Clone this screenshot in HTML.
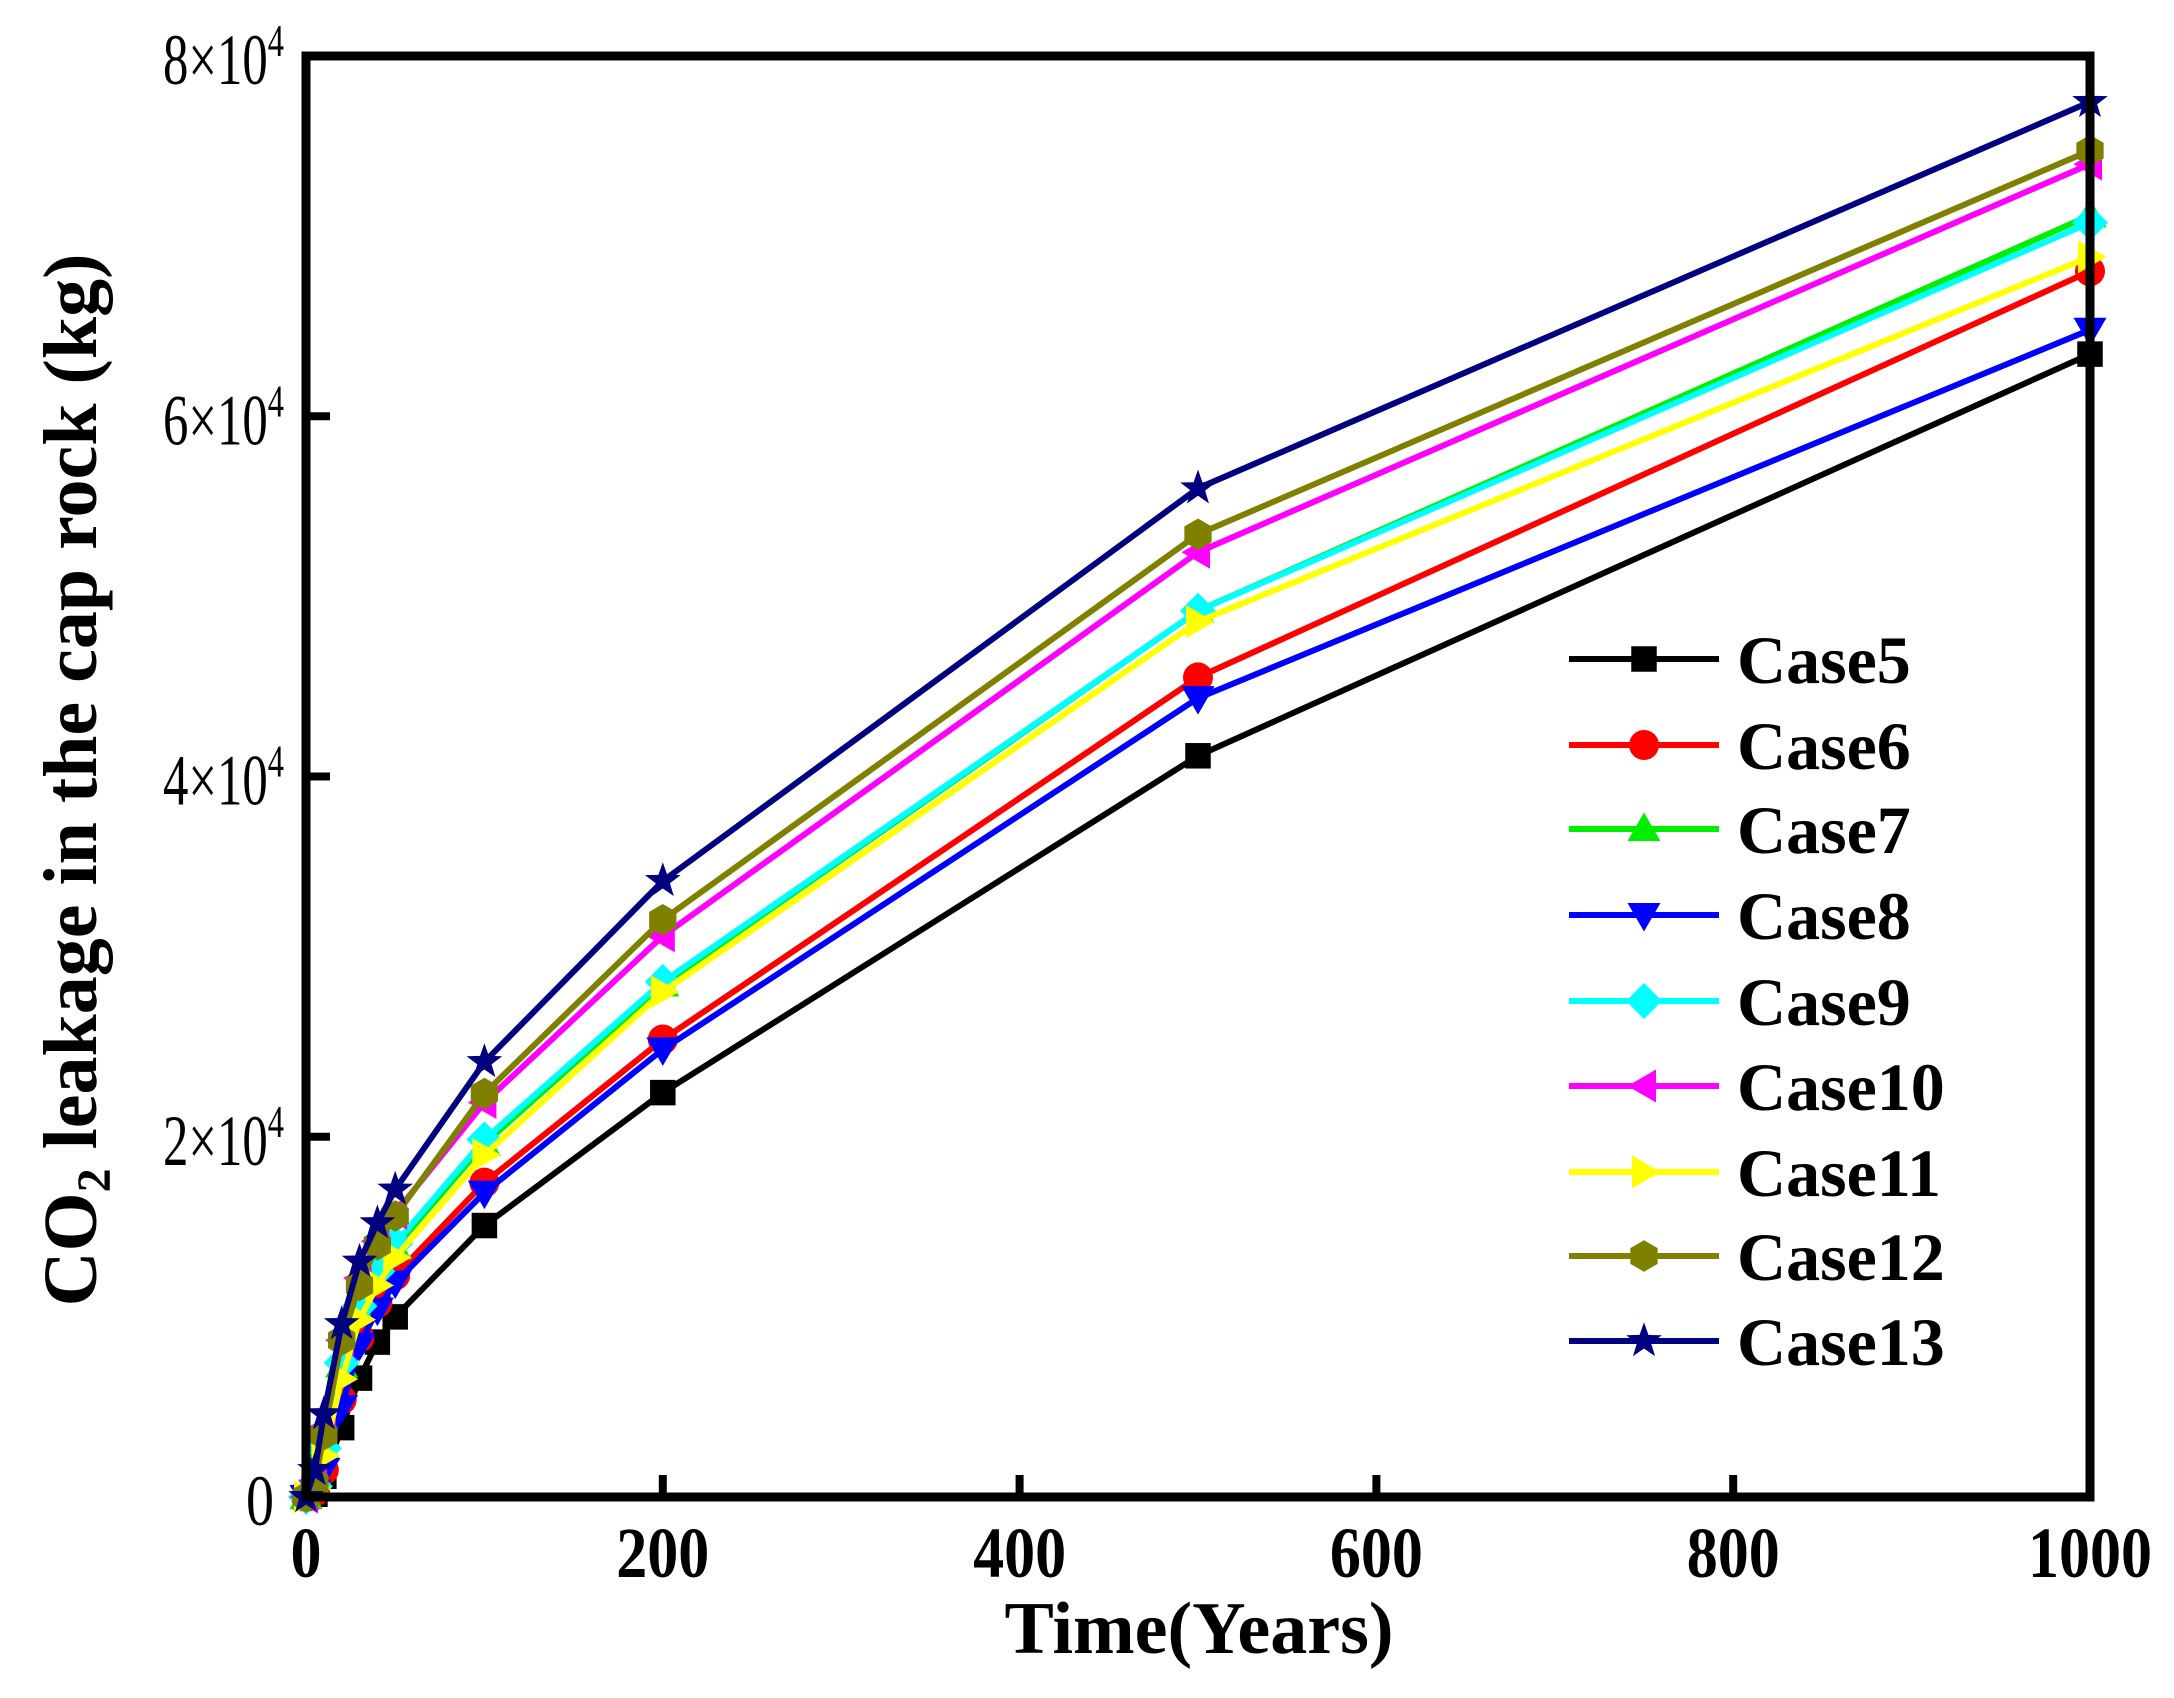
<!DOCTYPE html>
<html><head><meta charset="utf-8"><style>
html,body{margin:0;padding:0;background:#fff;}
svg{display:block;font-family:"Liberation Serif",serif;}
</style></head><body>
<svg id="chart" width="2174" height="1698" viewBox="0 0 2174 1698" xmlns="http://www.w3.org/2000/svg">
<g id="series"></g>
<g id="axes"></g>
<g id="legend"></g>
</svg>
<script>
const times = [5, 10, 20, 30, 40, 50, 100, 200, 500, 1000];
const case5  = [150, 1150, 3850, 6600, 8600, 10000, 15070, 22450, 41150, 63450];
const case6  = [300, 1500, 5400, 8850, 10770, 12300, 17450, 25400, 45500, 68050];
const case7  = [600, 2700, 7300, 10400, 12300, 13850, 19600, 28450, 49200, 71150];
const case8  = [300, 1500, 5000, 8450, 10400, 11900, 16900, 24850, 44350, 64800];
const case9  = [600, 2700, 7450, 10600, 12530, 14070, 19850, 28600, 49200, 70750];
const case10 = [900, 3850, 8700, 12150, 14200, 15750, 21900, 31150, 52450, 74000];
const case11 = [500, 2300, 6550, 9850, 11750, 13300, 19000, 28050, 48600, 68850];
const case12 = [800, 3450, 8700, 11750, 14000, 15600, 22400, 32050, 53450, 74750];
const case13 = [1500, 4600, 9600, 13070, 15200, 17070, 24150, 34200, 56000, 77450];
const seriesNames = ["Case5","Case6","Case7","Case8","Case9","Case10","Case11","Case12","Case13"];
const xTicks = [0, 200, 400, 600, 800, 1000];
const yTicks = [0, 20000, 40000, 60000, 80000];
const yTickMantissa = ["0","2","4","6","8"];

const allSeries = [case5,case6,case7,case8,case9,case10,case11,case12,case13];
const colors = ["#000000","#ff0000","#00ee00","#0000ff","#00ffff","#ff00ff","#ffff00","#808000","#000080"];
const markers = ["square","circle","tri-up","tri-down","diamond","tri-left","tri-right","hexagon","star"];

const X0=306, X1=2090, Y0=1497, Y1=56;
const xs = v => X0 + (v-0)/(1000-0)*(X1-X0);
const ys = v => Y0 - (v-0)/(80000-0)*(Y0-Y1);
const NS="http://www.w3.org/2000/svg";
function mk(tag, attrs, parent){const e=document.createElementNS(NS,tag);for(const k in attrs)e.setAttribute(k,attrs[k]);parent.appendChild(e);return e;}

function markerShape(type, cx, cy, r, color, parent){
  let e;
  if(type==="square") e=mk("rect",{x:cx-r*0.85,y:cy-r*0.85,width:r*1.7,height:r*1.7,fill:color},parent);
  else if(type==="circle") e=mk("circle",{cx:cx,cy:cy,r:r,fill:color},parent);
  else {
    let pts=[];
    if(type==="tri-up") pts=[[0,-r*1.1],[r*1.1,r*0.8],[-r*1.1,r*0.8]];
    else if(type==="tri-down") pts=[[0,r*1.1],[r*1.1,-r*0.8],[-r*1.1,-r*0.8]];
    else if(type==="tri-left") pts=[[-r*1.1,0],[r*0.8,-r*1.1],[r*0.8,r*1.1]];
    else if(type==="tri-right") pts=[[r*1.1,0],[-r*0.8,-r*1.1],[-r*0.8,r*1.1]];
    else if(type==="diamond") pts=[[0,-r*1.2],[r*1.2,0],[0,r*1.2],[-r*1.2,0]];
    else if(type==="hexagon"){for(let i=0;i<6;i++){const a=Math.PI/6+i*Math.PI/3;pts.push([r*1.05*Math.cos(a),r*1.05*Math.sin(a)]);}}
    else if(type==="star"){for(let i=0;i<10;i++){const a=-Math.PI/2+i*Math.PI/5;const rr=i%2?r*0.5:r*1.25;pts.push([rr*Math.cos(a),rr*Math.sin(a)]);}}
    e=mk("polygon",{points:pts.map(p=>(cx+p[0])+","+(cy+p[1])).join(" "),fill:color},parent);
  }
  return e;
}

const gS=document.getElementById("series");
allSeries.forEach((vals,si)=>{
  const g=mk("g",{},gS);
  
  
  const pts=[[xs(0),ys(0)]].concat(times.map((t,i)=>[xs(t),ys(vals[i])]));
  const pl=mk("polyline",{points:pts.map(p=>p.join(",")).join(" "),fill:"none",stroke:colors[si],"stroke-width":6,"stroke-linejoin":"miter"},g);
  
  
  [0].concat(times).forEach((t,i)=>{
    const v = i===0?0:vals[i-1];
    const m=markerShape(markers[si],xs(t),ys(v),15,colors[si],g);
    
    
  });
});

const gA=document.getElementById("axes");
const frame=mk("rect",{x:X0,y:Y1,width:X1-X0,height:Y0-Y1,fill:"none",stroke:"#000","stroke-width":9},gA);


xTicks.forEach(t=>{
  const l=mk("line",{x1:xs(t),x2:xs(t),y1:Y0,y2:Y0-22,stroke:"#000","stroke-width":8},gA);
  
  
  const tx=mk("text",{x:xs(t),y:1577,"text-anchor":"middle","font-size":72,"font-weight":"bold",textLength:String(t).length*31,lengthAdjust:"spacingAndGlyphs"},gA);
  tx.textContent=t;
  
  
});
yTicks.forEach((t,i)=>{
  const l=mk("line",{x1:X0,x2:X0+24,y1:ys(t),y2:ys(t),stroke:"#000","stroke-width":8},gA);
  
  
  let tx;
  if(t===0){
    tx=mk("text",{x:274,y:ys(t)+28,"text-anchor":"end","font-size":72,textLength:28,lengthAdjust:"spacingAndGlyphs"},gA);
    tx.textContent="0";
  } else {
    tx=mk("text",{x:163,y:ys(t)+28,"font-size":72,textLength:121,lengthAdjust:"spacingAndGlyphs"},gA);
    const a=mk("tspan",{},tx);a.textContent=yTickMantissa[i]+"\u00d710";
    const b=mk("tspan",{"font-size":46,dy:-28},tx);b.textContent="4";
  }
  
  
});
const xt=mk("text",{x:1199,y:1653,"text-anchor":"middle","font-size":74,"font-weight":"bold"},gA);
xt.textContent="Time(Years)";


const yt=mk("text",{x:0,y:0,"text-anchor":"middle","font-size":76,"font-weight":"bold",transform:"translate(96,780) rotate(-90)"},gA);
const y1=mk("tspan",{},yt);y1.textContent="CO";
const y2=mk("tspan",{"font-size":48,dy:14},yt);y2.textContent="2";
const y3=mk("tspan",{dy:-14},yt);y3.textContent="  leakage in the cap rock (kg)";



const gL=document.getElementById("legend");
const rowsY=[659,745,829,915,1001,1086,1172,1256,1341];
seriesNames.forEach((n,i)=>{
  const g=mk("g",{},gL);
  
  
  mk("line",{x1:1569,x2:1719,y1:rowsY[i],y2:rowsY[i],stroke:colors[i],"stroke-width":6},g);
  markerShape(markers[i],1644,rowsY[i],15,colors[i],g);
  const t=mk("text",{x:1737,y:rowsY[i]+24,"font-size":68,"font-weight":"bold"},g);
  t.textContent=n;
});
</script>
</body></html>
